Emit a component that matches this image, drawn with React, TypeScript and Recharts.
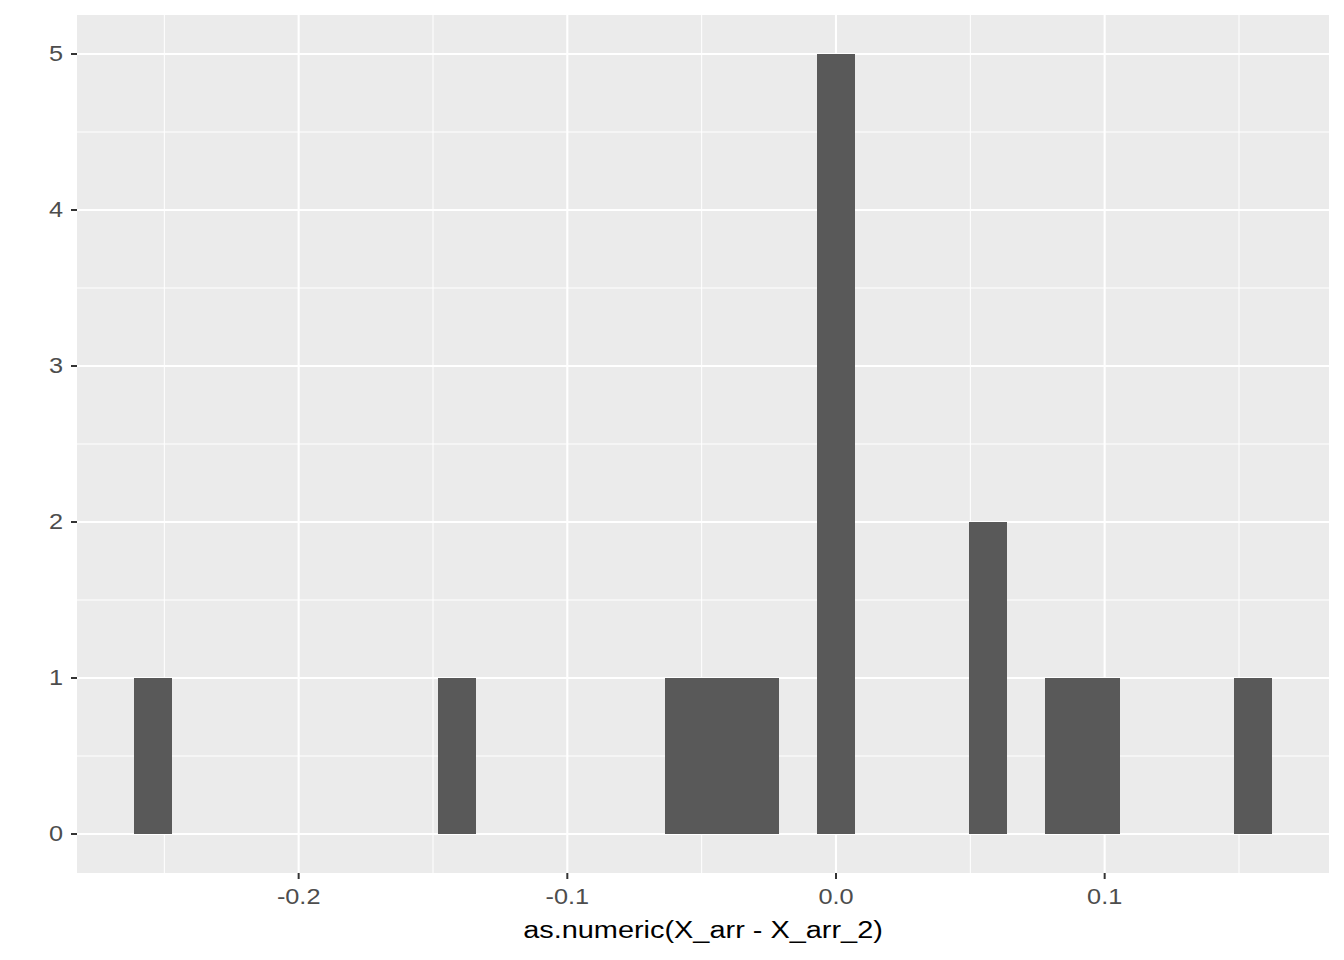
import { BarChart, Bar, XAxis, YAxis, CartesianGrid } from "recharts";

// histogram bins (30 bins, centres)
const binCenters = [
  -0.2542, -0.24008, -0.22596, -0.21184, -0.19772, -0.1836, -0.16948, -0.15536, -0.14124, -0.12712,
  -0.113, -0.09888, -0.08476, -0.07064, -0.05652, -0.0424, -0.02828, -0.01416, -0.00004, 0.01408,
  0.0282, 0.04232, 0.05644, 0.07056, 0.08468, 0.0988, 0.11292, 0.12704, 0.14116, 0.15528,
];
const counts = [
  1, 0, 0, 0, 0, 0, 0, 0, 1, 0,
  0, 0, 0, 0, 1, 1, 1, 0, 5, 0,
  0, 0, 2, 0, 1, 1, 0, 0, 0, 1,
];

const xTicks = [-0.2, -0.1, 0, 0.1];
const xMinor = [-0.25, -0.15, -0.05, 0.05, 0.15];
const yTicks = [0, 1, 2, 3, 4, 5];
const yMinor = [0.5, 1.5, 2.5, 3.5, 4.5];

const data = binCenters.map((x, i) => ({ x, count: counts[i] }));

const font = "'Liberation Sans', Arial, sans-serif";
// the reference text is a little stretched horizontally
const stretch = 1.15;

const XTick = (props: any) => {
  const { x, y, payload } = props;
  return (
    <g transform={`translate(${x},${y + 13}) scale(${stretch},1)`}>
      <text x={0} y={0} textAnchor="middle" fill="#4D4D4D" fontSize={22} fontFamily={font}>
        {Number(payload.value).toFixed(1)}
      </text>
    </g>
  );
};

const YTick = (props: any) => {
  const { x, y, payload } = props;
  return (
    <g transform={`translate(${x},${y + 7}) scale(${stretch},1)`}>
      <text x={0} y={0} textAnchor="end" fill="#4D4D4D" fontSize={22} fontFamily={font}>
        {payload.value}
      </text>
    </g>
  );
};

const XTitle = (props: any) => {
  const { viewBox } = props;
  return (
    <g transform={`translate(${viewBox.x + viewBox.width / 2},938) scale(1.18,1)`}>
      <text x={0} y={0} textAnchor="middle" fill="#000000" fontSize={24.5} fontFamily={font}>
        as.numeric(X_arr - X_arr_2)
      </text>
    </g>
  );
};

export default function App() {
  return (
    <div style={{ position: "absolute", left: 0, top: 0 }}>
      <BarChart
        width={1344}
        height={960}
        data={data}
        margin={{ top: 15, right: 15, bottom: 0, left: 37 }}
        barCategoryGap={0}
        barGap={0}
      >
        <CartesianGrid
          fill="#EBEBEB"
          stroke="#FFFFFF"
          strokeWidth={1}
          horizontalValues={yMinor}
          verticalValues={xMinor}
        />
        <CartesianGrid
          fill="none"
          stroke="#FFFFFF"
          strokeWidth={2.1}
          horizontalValues={yTicks}
          verticalValues={xTicks}
        />
        <XAxis
          type="number"
          dataKey="x"
          domain={[-0.2825, 0.1835]}
          allowDataOverflow
          ticks={xTicks}
          axisLine={false}
          tickSize={6}
          tickMargin={12}
          tickLine={{ stroke: "#333333", strokeWidth: 2 }}
          tick={<XTick />}
          height={87}
          label={<XTitle />}
        />
        <YAxis
          type="number"
          domain={[-0.25, 5.25]}
          allowDataOverflow
          ticks={yTicks}
          axisLine={false}
          tickSize={6}
          tickMargin={8}
          tickLine={{ stroke: "#333333", strokeWidth: 2 }}
          tick={<YTick />}
          width={40}
        />
        <Bar
          dataKey="count"
          fill="#595959"
          shapeRendering="crispEdges"
          isAnimationActive={false}
        />
      </BarChart>
    </div>
  );
}
